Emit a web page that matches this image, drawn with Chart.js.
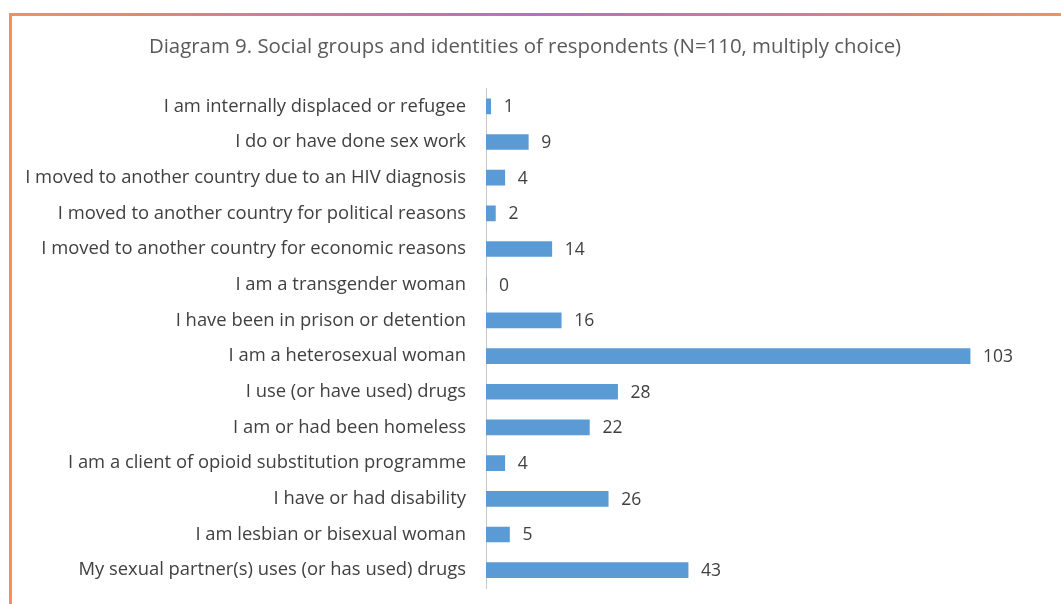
<!DOCTYPE html>
<html>
<head>
<meta charset="utf-8">
<title>Diagram 9</title>
<script src="https://cdn.jsdelivr.net/npm/chart.js@4/dist/chart.umd.min.js"></script>
<style>
    html, body { margin: 0; padding: 0; background: #ffffff; }
    #wrap { position: relative; width: 1061px; height: 604px; overflow: hidden; }
    #frameTop {
        position: absolute; left: 9px; top: 13px; width: 1052px; height: 3px;
        background: linear-gradient(to right, #f79052 0%, #d8789a 25%, #c06cb8 50%, #d8789a 75%, #f79052 100%);
    }
    #frameLeft {
        position: absolute; left: 9px; top: 13px; width: 3px; height: 591px;
        background: #f79052;
    }
    #myChart { position: absolute; left: 0; top: 0; }
</style>
</head>
<body>
<div id="wrap">
    <div id="frameTop"></div>
    <div id="frameLeft"></div>
    <canvas id="myChart" width="1061" height="604"></canvas>
</div>
<script>
// Skupiny a hodnoty (odshora dolů)
var groups = [
    'I am internally displaced or refugee',
    'I do or have done sex work',
    'I moved to another country due to an HIV diagnosis',
    'I moved to another country for political reasons',
    'I moved to another country for economic reasons',
    'I am a transgender woman',
    'I have been in prison or detention',
    'I am a heterosexual woman',
    'I use (or have used) drugs',
    'I am or had been homeless',
    'I am a client of opioid substitution programme',
    'I have or had disability',
    'I am lesbian or bisexual woman',
    'My sexual partner(s) uses (or has used) drugs'
];
var counts = [1, 9, 4, 2, 14, 0, 16, 103, 28, 22, 4, 26, 5, 43];

var chartTitle = 'Diagram 9. Social groups and identities of respondents (N=110, multiply choice)';

// Popisky hodnot za koncem sloupců
var valueLabels = {
    id: 'valueLabels',
    afterDatasetsDraw: function (chart) {
        var ctx = chart.ctx;
        var meta = chart.getDatasetMeta(0);
        ctx.save();
        ctx.font = '17.5px "Open Sans"';
        ctx.fillStyle = '#404040';
        ctx.textAlign = 'left';
        ctx.textBaseline = 'middle';
        meta.data.forEach(function (bar, i) {
            ctx.fillText(String(counts[i]), bar.x + 13, bar.y + 1);
        });
        ctx.restore();
    }
};

var ctx = document.getElementById('myChart');

if (ctx) {
    var myChart = new Chart(ctx, {
        type: 'bar',
        data: {
            labels: groups,
            datasets: [{
                data: counts,
                backgroundColor: '#5b9bd5',
                borderWidth: 0,
                barThickness: 15
            }]
        },
        options: {
            indexAxis: 'y',
            responsive: false,
            animation: false,
            layout: {
                padding: { left: 0, right: 11, top: 0, bottom: 16 }
            },
            scales: {
                x: {
                    display: false,
                    min: 0,
                    max: 120
                },
                y: {
                    grid: { display: false },
                    border: { display: true, color: '#c8c8c8', width: 1 },
                    ticks: {
                        color: '#404040',
                        font: { family: 'Open Sans', size: 18.4 },
                        padding: 12
                    },
                    afterFit: function (scale) {
                        // pevná šířka osy a bez dodatečného odsazení nahoře/dole
                        scale.width = 486;
                        scale.paddingTop = 0;
                        scale.paddingBottom = 0;
                    }
                }
            },
            plugins: {
                legend: { display: false },
                tooltip: { enabled: false },
                title: {
                    display: true,
                    text: chartTitle,
                    color: '#595959',
                    font: { family: 'Open Sans', size: 20.4, weight: 'normal' },
                    padding: { top: 35, bottom: 29 }
                }
            }
        },
        plugins: [valueLabels]
    });
} else {
    console.error("Canvas element with ID 'myChart' not found.");
}
</script>
</body>
</html>
